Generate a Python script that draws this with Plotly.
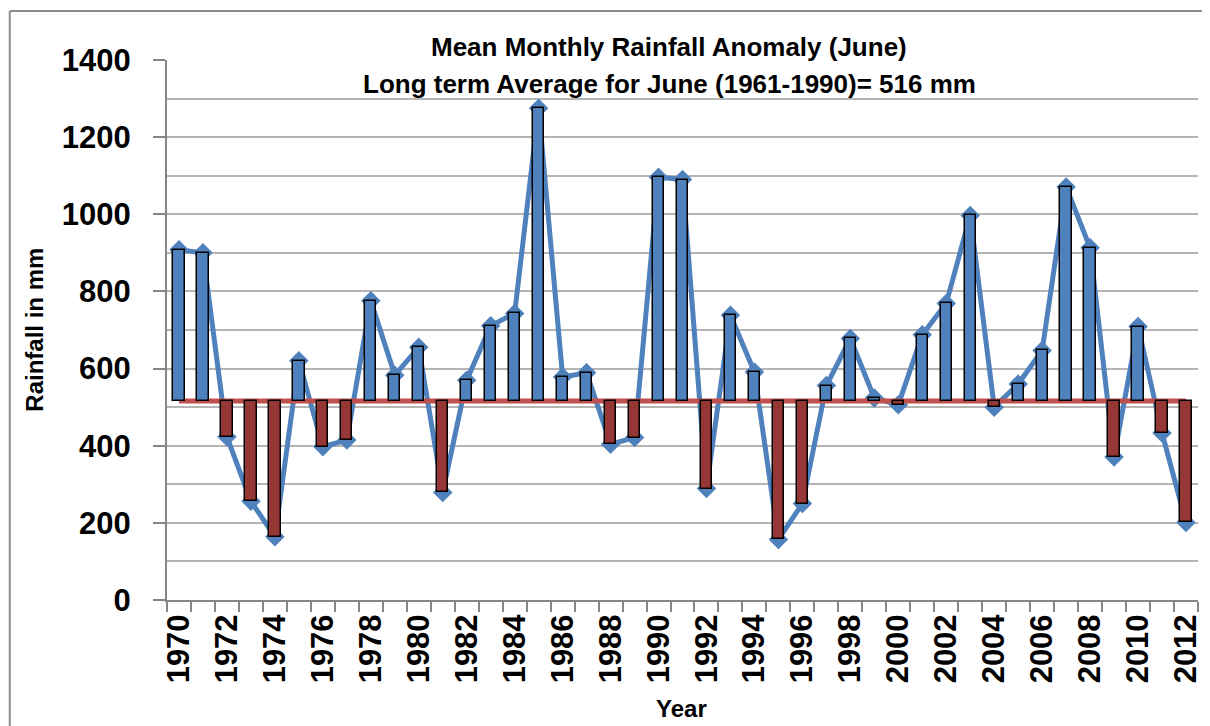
import plotly.graph_objects as go

years = list(range(1970, 2013))
rainfall = [908, 900, 423, 256, 164, 620, 397, 415, 776, 583,
            655, 279, 570, 711, 743, 1275, 578, 589, 404, 421,
            1096, 1090, 289, 738, 591, 157, 250, 556, 678, 524,
            506, 688, 769, 997, 500, 560, 647, 1071, 913, 371,
            709, 433, 201]
long_term_avg = 516
tick_years = list(range(1970, 2013, 2))
y_ticks = list(range(0, 1401, 200))

title1 = "Mean Monthly Rainfall Anomaly (June)"
title2 = "Long term Average for June (1961-1990)= 516 mm"

BLUE = "#4F81BD"
DARK_RED = "#953735"
RED = "#C0504D"
FONT = "Liberation Sans, Arial, sans-serif"

anomaly = [v - long_term_avg for v in rainfall]
bar_colors = [BLUE if a >= 0 else DARK_RED for a in anomaly]

fig = go.Figure()

fig.add_trace(go.Scatter(
    x=years, y=rainfall, mode="lines+markers",
    line=dict(color=BLUE, width=5),
    marker=dict(symbol="diamond", size=15, color=BLUE),
    showlegend=False, yaxis="y"))

fig.add_trace(go.Scatter(
    x=[years[0], years[-1]], y=[long_term_avg, long_term_avg], mode="lines",
    line=dict(color=RED, width=5), showlegend=False, yaxis="y"))

fig.add_trace(go.Bar(
    x=years, y=anomaly, base=long_term_avg, width=0.47,
    marker=dict(color=bar_colors, line=dict(color="black", width=1.5)),
    showlegend=False, yaxis="y2"))

OFF = 8  # page body margin
W, H = 1210 - OFF, 726 - OFF
L, T = 167 - OFF, 60 - OFF
R = W - (1203 - OFF)
B = H - (600 - OFF)
pw, ph = W - L - R, H - T - B

def px(p):
    return (p - OFF - L) / pw

def py(p):
    return (H - B - (p - OFF)) / ph

frame = dict(color="#8C8C8C", width=2)

fig.update_layout(
    width=W, height=H,
    margin=dict(l=L, r=R, t=T, b=B),
    plot_bgcolor="white", paper_bgcolor="white",
    font=dict(family=FONT, color="black"),
    bargap=0,
    xaxis=dict(
        range=[years[0] - 0.5, years[-1] + 0.5],
        tickmode="array", tickvals=tick_years,
        ticktext=[str(y) for y in tick_years],
        tickangle=-90, ticks="",
        tickfont=dict(family=FONT, size=31, weight="bold", color="black"),
        showgrid=False, zeroline=False,
        showline=True, linecolor="#868686", linewidth=2,
        minor=dict(ticks="outside", ticklen=10, tickwidth=2, tickcolor="#868686",
                   tick0=years[0] - 0.5, dtick=1, showgrid=False),
    ),
    yaxis=dict(
        range=[0, 1400], tickmode="array", tickvals=y_ticks,
        tickfont=dict(family=FONT, size=31, weight="bold", color="black"),
        ticks="outside", ticklen=12, tickwidth=2, tickcolor="#868686",
        showgrid=True, gridcolor="#B5B5B5", gridwidth=2,
        minor=dict(dtick=100, showgrid=True, gridcolor="#B5B5B5", gridwidth=2, ticks=""),
        zeroline=False, showline=True, linecolor="#868686", linewidth=2,
        ticklabelstandoff=16,
    ),
    yaxis2=dict(range=[0, 1400], overlaying="y", visible=False),
    shapes=[
        dict(type="line", xref="paper", yref="paper",
             x0=px(9), x1=px(9), y0=py(740), y1=py(11), line=frame, layer="below"),
        dict(type="line", xref="paper", yref="paper",
             x0=px(9), x1=px(1230), y0=py(11), y1=py(11), line=frame, layer="below"),
    ],
    annotations=[
        dict(text=title1, xref="paper", yref="paper", x=px(671), y=py(47),
             showarrow=False, xanchor="center", yanchor="middle",
             font=dict(family=FONT, size=26, weight="bold", color="black")),
        dict(text=title2, xref="paper", yref="paper", x=px(672), y=py(84),
             showarrow=False, xanchor="center", yanchor="middle",
             font=dict(family=FONT, size=26, weight="bold", color="black")),
        dict(text="Rainfall in mm", xref="paper", yref="paper", x=px(33), y=py(330),
             showarrow=False, textangle=-90, xanchor="center", yanchor="middle",
             font=dict(family=FONT, size=24, weight="bold", color="black")),
        dict(text="Year", xref="paper", yref="paper", x=px(684), y=py(708),
             showarrow=False, xanchor="center", yanchor="middle",
             font=dict(family=FONT, size=24, weight="bold", color="black")),
    ],
)

fig.write_html("out.html")
